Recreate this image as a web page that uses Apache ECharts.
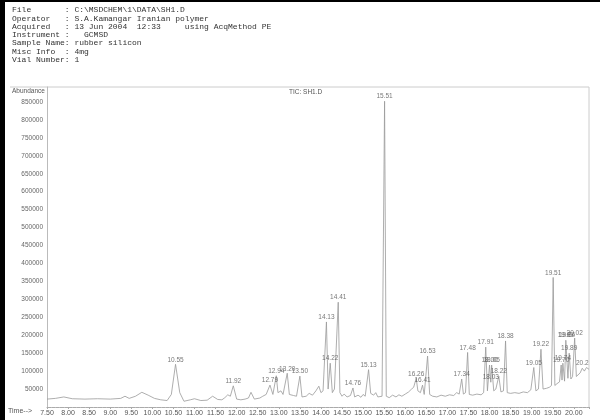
<!DOCTYPE html>
<html><head><meta charset="utf-8">
<script src="https://cdn.jsdelivr.net/npm/echarts@6/dist/echarts.min.js"></script>
<style>html,body{margin:0;padding:0;background:#fff}#c{width:600px;height:420px}</style>
</head><body><div id="c"></div>
<script>
// header lines
const headerLines = [
  "File       : C:\\MSDCHEM\\1\\DATA\\SH1.D",
  "Operator   : S.A.Kamangar Iranian polymer",
  "Acquired   : 13 Jun 2004  12:33     using AcqMethod PE",
  "Instrument :   GCMSD",
  "Sample Name: rubber silicon",
  "Misc Info  : 4mg",
  "Vial Number: 1"
];
// chromatogram trace: retention time (min)
const traceTimes = [7.5,7.7,7.9,8.1,8.4,8.7,9.0,9.25,9.35,9.45,9.6,9.75,9.9,10.05,10.2,10.35,10.45,10.55,10.65,10.75,10.9,11.0,11.15,11.3,11.43,11.55,11.65,11.72,11.79,11.85,11.92,12.0,12.1,12.2,12.28,12.34,12.42,12.55,12.62,12.7,12.79,12.86,12.94,12.98,13.05,13.1,13.2,13.25,13.35,13.42,13.5,13.55,13.65,13.72,13.8,13.88,13.95,14.0,14.05,14.13,14.17,14.22,14.27,14.32,14.36,14.41,14.45,14.5,14.55,14.62,14.7,14.76,14.8,14.88,14.95,15.0,15.05,15.13,15.18,15.25,15.3,15.35,15.45,15.51,15.55,15.62,15.7,15.78,15.85,15.92,16.0,16.08,16.15,16.2,16.26,16.3,16.36,16.41,16.45,16.48,16.53,16.58,16.65,16.75,16.85,16.95,17.05,17.15,17.22,17.28,17.34,17.38,17.43,17.48,17.52,17.6,17.7,17.8,17.86,17.91,17.95,18.0,18.03,18.05,18.1,18.15,18.22,18.27,18.33,18.38,18.42,18.5,18.6,18.7,18.8,18.9,18.98,19.05,19.1,19.16,19.22,19.27,19.35,19.42,19.47,19.51,19.55,19.6,19.66,19.7,19.72,19.74,19.78,19.81,19.84,19.86,19.89,19.93,19.97,20.02,20.06,20.1,20.15,20.2,20.25,20.3,20.36];
// abundance at each time
const traceValues = [22000,24000,28000,23000,22000,23000,22000,24000,30000,24000,30000,41000,33000,24000,20000,18000,35000,119000,40000,16000,20000,23000,18000,19000,30000,21000,20000,26000,34000,30000,59000,22000,20000,22000,25000,41000,22000,25000,30000,35000,61000,35000,87000,40000,45000,35000,94000,35000,32000,30000,86000,28000,30000,38000,33000,45000,58000,40000,45000,237000,50000,122000,40000,50000,45000,292000,40000,30000,36000,28000,32000,53000,28000,33000,27000,35000,30000,104000,38000,33000,40000,28000,30000,852000,30000,26000,33000,28000,34000,30000,36000,42000,50000,55000,80000,45000,40000,61000,35000,40000,142000,35000,30000,28000,33000,30000,34000,32000,40000,36000,78000,36000,40000,152000,35000,33000,36000,34000,40000,167000,45000,117000,69000,117000,45000,50000,86000,42000,45000,184000,40000,38000,40000,38000,42000,40000,48000,110000,45000,50000,161000,50000,52000,55000,60000,361000,60000,65000,70000,117000,75000,122000,72000,186000,186000,80000,150000,78000,85000,192000,85000,90000,95000,108000,100000,110000,105000];
// labelled peaks
const peakLabels = ["10.55","11.92","12.79","12.94","13.20","13.50","14.13","14.22","14.41","14.76","15.13","15.51","16.26","16.41","16.53","17.34","17.48","17.91","18.00","18.05","18.03","18.22","18.38","19.05","19.22","19.51","19.70","19.74","19.81","19.84","19.89","20.02","20.2"];
const peakTimes = [10.55,11.92,12.79,12.94,13.20,13.50,14.13,14.22,14.41,14.76,15.13,15.51,16.26,16.41,16.53,17.34,17.48,17.91,18.00,18.05,18.03,18.22,18.38,19.05,19.22,19.51,19.70,19.74,19.81,19.84,19.89,20.02,20.2];
const peakValues = [119000,59000,61000,87000,94000,86000,237000,122000,292000,53000,104000,852000,80000,61000,142000,78000,152000,167000,117000,117000,69000,86000,184000,110000,161000,361000,117000,122000,186000,186000,150000,192000,108000];

const chart = echarts.init(document.getElementById('c'));
const lineData = traceTimes.map((t,i)=>[t,traceValues[i]]);
const labelData = peakTimes.map((t,i)=>({value:[t,peakValues[i]], name:peakLabels[i]}));
const mono = 'Liberation Mono, DejaVu Sans Mono, monospace';
const sans = 'Liberation Sans, Arial';
chart.setOption({
  animation:false,
  backgroundColor:'#fff',
  grid:{left:47,right:11,top:87,bottom:13,show:false},
  xAxis:{type:'value',min:7.5,max:20.36,interval:0.5,
    axisLine:{lineStyle:{color:'#aaa',width:1}},
    axisTick:{show:true,length:2,lineStyle:{color:'#aaa'}},
    minorTick:{show:true,splitNumber:5,length:1,lineStyle:{color:'#bbb'}},
    splitLine:{show:false},
    axisLabel:{fontSize:7,color:'#555',fontFamily:sans,margin:3,showMaxLabel:false,
      formatter:v=>v.toFixed(2)}},
  yAxis:{type:'value',min:0,max:891667,interval:50000,
    axisLine:{show:true,lineStyle:{color:'#bbb',width:1}},
    axisTick:{show:false},splitLine:{show:false},
    axisLabel:{fontSize:6.5,color:'#666',fontFamily:sans,margin:4,showMinLabel:false,showMaxLabel:false,
      formatter:v=>String(Math.round(v))}},
  series:[
    {type:'line',data:lineData,showSymbol:false,symbol:'none',
     lineStyle:{color:'#999',width:0.8},z:2},
    {type:'scatter',data:labelData,symbolSize:0.1,itemStyle:{color:'transparent'},
     label:{show:true,position:'top',distance:1,formatter:p=>p.name,fontSize:6.5,color:'#555',fontFamily:sans},z:3}
  ],
  graphic:[
    {type:'rect',shape:{x:0,y:0,width:5,height:420},style:{fill:'#000'}},
    {type:'rect',shape:{x:0,y:0,width:600,height:2},style:{fill:'#000'}},
    {type:'line',shape:{x1:10,y1:87,x2:589,y2:87},style:{stroke:'#ccc',lineWidth:1}},
    {type:'line',shape:{x1:589,y1:87,x2:589,y2:407},style:{stroke:'#ccc',lineWidth:1}},
    {type:'text',left:12,top:88,style:{text:'Abundance',fontSize:6.5,fill:'#555',fontFamily:sans}},
    {type:'text',left:289,top:89,style:{text:'TIC: SH1.D',fontSize:6.5,fill:'#555',fontFamily:sans}},
    {type:'text',left:8,top:408,style:{text:'Time-->',fontSize:7,fill:'#555',fontFamily:sans}},
    {type:'text',left:12,top:6,style:{text:headerLines.join('\n'),fontSize:8,lineHeight:8.3,fill:'#333',fontFamily:mono}}
  ]
});
</script></body></html>
